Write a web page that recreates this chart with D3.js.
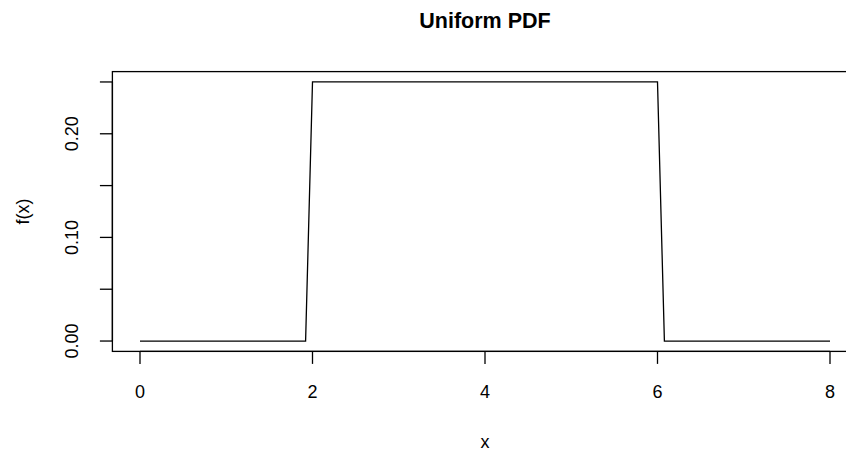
<!DOCTYPE html>
<html>
<head>
<meta charset="utf-8">
<script src="https://cdn.jsdelivr.net/npm/d3@7"></script>
<style>
  body { margin: 0; background: #fff; }
  svg { display: block; font-family: "Liberation Sans", Arial, sans-serif; }
</style>
</head>
<body>
<svg id="chart" width="846" height="452"></svg>
<script>
// curve points of dunif(x, 2, 6) as drawn (step 0.08)
const xVals = [0, 1.92, 2, 6, 6.08, 8];
const yVals = [0, 0, 0.25, 0.25, 0, 0];
const xTicks = [0, 2, 4, 6, 8];
const yTicks = [0, 0.05, 0.10, 0.15, 0.20, 0.25];
const yTickLabels = ["0.00", "", "0.10", "", "0.20", ""];

const width = 846, height = 452;
const svg = d3.select("#chart");

// R pads the data range by 4% each side
const x = d3.scaleLinear().domain([-0.32, 8.32]).range([112.4, 857.6]);
const y = d3.scaleLinear().domain([-0.01, 0.26]).range([351.4, 71.6]);

// plot box
svg.append("rect")
    .attr("x", x(-0.32)).attr("y", y(0.26))
    .attr("width", x(8.32) - x(-0.32)).attr("height", y(-0.01) - y(0.26))
    .attr("fill", "none").attr("stroke", "#000").attr("stroke-width", 1.3);

// x axis
const xAxis = svg.append("g").attr("transform", `translate(0,${y(-0.01)})`);
xAxis.append("line")
    .attr("x1", x(0)).attr("x2", x(8))
    .attr("stroke", "#000").attr("stroke-width", 1.3);
xAxis.selectAll(".tick").data(xTicks).enter().append("line")
    .attr("x1", d => x(d)).attr("x2", d => x(d))
    .attr("y1", 0).attr("y2", 12.5)
    .attr("stroke", "#000").attr("stroke-width", 1.3);
xAxis.selectAll(".lab").data(xTicks).enter().append("text")
    .attr("x", d => x(d)).attr("y", 47)
    .attr("text-anchor", "middle").attr("font-size", 18)
    .text(d => d);

// y axis
const yAxis = svg.append("g").attr("transform", `translate(${x(-0.32)},0)`);
yAxis.append("line")
    .attr("y1", y(0)).attr("y2", y(0.25))
    .attr("stroke", "#000").attr("stroke-width", 1.3);
yAxis.selectAll(".tick").data(yTicks).enter().append("line")
    .attr("y1", d => y(d)).attr("y2", d => y(d))
    .attr("x1", 0).attr("x2", -12.5)
    .attr("stroke", "#000").attr("stroke-width", 1.3);
yAxis.selectAll(".lab").data(yTicks).enter().append("text")
    .attr("transform", d => `translate(-34,${y(d)}) rotate(-90)`)
    .attr("text-anchor", "middle").attr("font-size", 18)
    .text((d, i) => yTickLabels[i]);

// the density line
const line = d3.line().x((d, i) => x(xVals[i])).y((d, i) => y(yVals[i]));
svg.append("path")
    .datum(xVals)
    .attr("d", line)
    .attr("fill", "none").attr("stroke", "#000").attr("stroke-width", 1.3);

// titles
svg.append("text")
    .attr("x", (112.4 + 857.6) / 2).attr("y", 28)
    .attr("text-anchor", "middle").attr("font-size", 21.5).attr("font-weight", "bold")
    .text("Uniform PDF");
svg.append("text")
    .attr("x", (112.4 + 857.6) / 2).attr("y", 448)
    .attr("text-anchor", "middle").attr("font-size", 18)
    .text("x");
svg.append("text")
    .attr("transform", `translate(29,${(71.6 + 351.4) / 2}) rotate(-90)`)
    .attr("text-anchor", "middle").attr("font-size", 18)
    .text("f(x)");
</script>
</body>
</html>
